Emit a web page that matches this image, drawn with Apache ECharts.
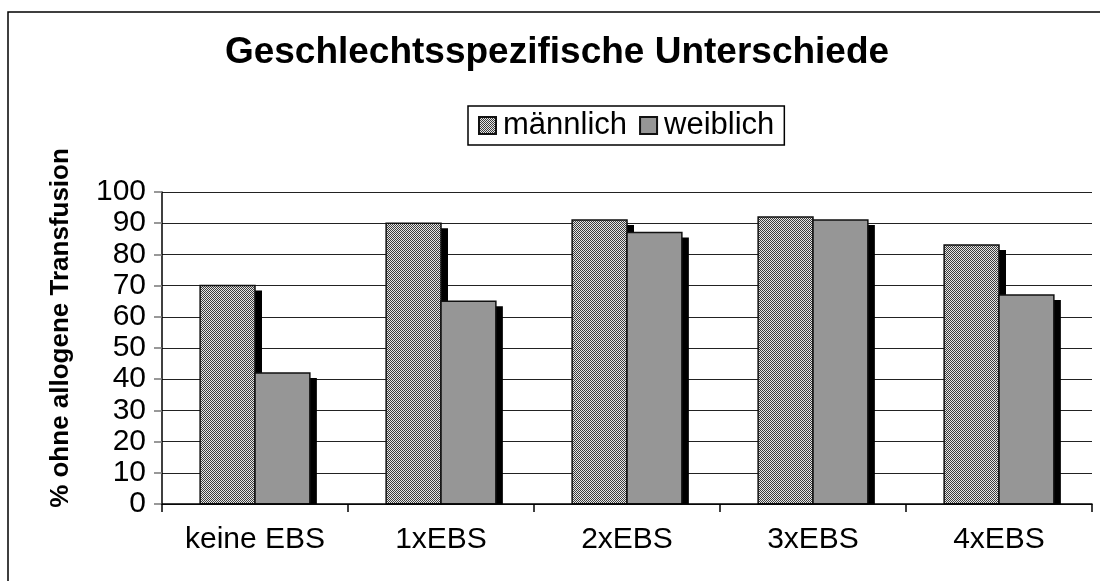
<!DOCTYPE html>
<html>
<head>
<meta charset="utf-8">
<script src="https://cdn.jsdelivr.net/npm/echarts@6/dist/echarts.min.js"></script>
<style>
  html, body { margin: 0; padding: 0; background: #fff; }
  #chart { width: 1100px; height: 581px; }
</style>
</head>
<body>
<div id="chart"></div>
<script>
const categories = ['keine EBS', '1xEBS', '2xEBS', '3xEBS', '4xEBS'];
const maleValues = [70, 90, 91, 92, 83];
const femaleValues = [42, 65, 87, 91, 67];
const yMin = 0;
const yMax = 100;
const yStep = 10;

// fine checker fill like the old excel dither pattern
function checkerPattern() {
  const c = document.createElement('canvas');
  c.width = 2;
  c.height = 2;
  const ctx = c.getContext('2d');
  ctx.fillStyle = '#e6e6e6';
  ctx.fillRect(0, 0, 2, 2);
  ctx.fillStyle = '#3c3c3c';
  ctx.fillRect(0, 0, 1, 1);
  ctx.fillRect(1, 1, 1, 1);
  return c;
}

const font = 'Liberation Sans, Arial, sans-serif';
const malePattern = { image: checkerPattern(), repeat: 'repeat' };
const femaleColor = '#969696';
const barFrac = 0.295;   // share of the category band per bar
const shadowDx = 7;
const shadowDy = 5;

const chart = echarts.init(document.querySelector('#chart'));

// bar + black drop shadow, side = -1 left of the category centre, 1 right
function barRenderer(side, fill) {
  return function (params, api) {
    const idx = api.value(0);
    const top = api.coord([idx, api.value(1)]);
    const base = api.coord([idx, 0]);
    const band = api.size([1, 0])[0];
    const w = band * barFrac;
    const x = side < 0 ? top[0] - w : top[0];
    const h = base[1] - top[1];
    return {
      type: 'group',
      children: [
        {
          type: 'rect',
          shape: { x: x + shadowDx, y: top[1] + shadowDy, width: w, height: Math.max(h - shadowDy, 0) },
          style: { fill: '#000' }
        },
        {
          type: 'rect',
          shape: { x: x, y: top[1], width: w, height: h },
          style: { fill: fill, stroke: '#111', lineWidth: 1.5 }
        }
      ]
    };
  };
}

const option = {
  animation: false,
  backgroundColor: '#fff',
  textStyle: { fontFamily: font },
  title: {
    text: 'Geschlechtsspezifische Unterschiede',
    left: 552,
    textAlign: 'center',
    top: 29,
    textStyle: { fontSize: 37, fontWeight: 'bold', color: '#000', fontFamily: font }
  },
  legend: {
    data: ['männlich', 'weiblich'],
    left: 468,
    top: 106,
    orient: 'horizontal',
    icon: 'rect',
    itemWidth: 17,
    itemHeight: 17,
    itemGap: 12,
    padding: [4, 10, 4, 10],
    borderColor: '#000',
    borderWidth: 1.5,
    textStyle: { fontSize: 31, color: '#000', fontFamily: font, padding: [0, 0, 0, 2] }
  },
  grid: {
    left: 162,
    right: 8,
    top: 192,
    bottom: 77,
    containLabel: false
  },
  xAxis: {
    type: 'category',
    data: categories,
    z: 10,
    axisLine: { lineStyle: { color: '#000', width: 1.5 } },
    axisTick: { show: true, length: 8, lineStyle: { color: '#000', width: 1.5 } },
    axisLabel: { fontSize: 30, color: '#000', margin: 21, fontFamily: font }
  },
  yAxis: {
    type: 'value',
    min: yMin,
    max: yMax,
    interval: yStep,
    name: '% ohne allogene Transfusion',
    nameLocation: 'middle',
    nameGap: 88,
    nameTextStyle: { fontSize: 26, fontWeight: 'bold', color: '#000', fontFamily: font, padding: [0, 0, 0, 40] },
    axisLine: { show: true, lineStyle: { color: '#000', width: 1.5 } },
    axisTick: { show: true, length: 8, lineStyle: { color: '#777', width: 1.5 } },
    axisLabel: { fontSize: 30, color: '#000', margin: 16, fontFamily: font },
    splitLine: { show: true, lineStyle: { color: '#222', width: 1 } }
  },
  graphic: [
    {
      type: 'rect',
      shape: { x: 8, y: 12, width: 1200, height: 700 },
      style: { fill: 'none', stroke: '#000', lineWidth: 1.5 },
      silent: true,
      z: 1
    }
  ],
  series: [
    {
      name: 'männlich',
      type: 'custom',
      renderItem: barRenderer(-1, malePattern),
      data: maleValues.map((v, i) => [i, v]),
      encode: { x: 0, y: 1 },
      itemStyle: { color: malePattern, borderColor: '#111', borderWidth: 1.5 },
      emphasis: { disabled: true }
    },
    {
      name: 'weiblich',
      type: 'custom',
      renderItem: barRenderer(1, femaleColor),
      data: femaleValues.map((v, i) => [i, v]),
      encode: { x: 0, y: 1 },
      itemStyle: { color: femaleColor, borderColor: '#111', borderWidth: 1.5 },
      emphasis: { disabled: true }
    }
  ]
};

chart.setOption(option);
</script>
</body>
</html>
